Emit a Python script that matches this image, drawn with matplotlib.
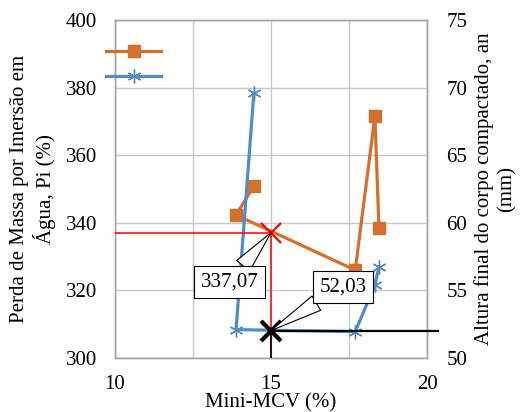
import numpy as np
import matplotlib.pyplot as plt

plt.rcParams['font.family'] = ['Liberation Serif', 'DejaVu Serif']
plt.rcParams['font.size'] = 15

# Mini-MCV (%)
mcv = [14.45, 13.88, 17.70, 18.33, 18.46]
# Perda de massa por imersao, Pi (%) - left axis
pi = [350.9, 342.3, 326.0, 371.6, 338.6]
# Altura final do corpo compactado, an (mm) - right axis
an = [69.6, 52.1, 51.95, 55.4, 56.75]

mcv_ref = 15.0
pi_ref = 337.07
an_ref = 52.03

orange = '#d5702c'
blue = '#508dc8'
grid_c = '#c8c8c8'

fig = plt.figure(figsize=(5.28, 4.12), dpi=100)
ax1 = fig.add_axes([115/528, 1-358/412, (427-115)/528, (358-20)/412])
ax2 = ax1.twinx()

p1, = ax1.plot(mcv, pi, color=orange, lw=2.3, marker='s', ms=8.5, zorder=3)
p2, = ax2.plot(mcv, an, color=blue, lw=2.3, marker=(6, 2, 0), ms=10,
               mew=1.0, mec=blue, zorder=3)

ax1.set_xlim(10, 20)
ax1.set_ylim(300, 400)
ax2.set_ylim(50, 75)
ax1.set_xticks([10, 15, 20])
ax1.set_xticks([12.5, 17.5], minor=True)
ax1.set_yticks(np.arange(300, 401, 20))
ax2.set_yticks(np.arange(50, 76, 5))

ax1.grid(True, which='both', axis='x', color=grid_c, lw=1)
ax1.grid(True, which='major', axis='y', color=grid_c, lw=1)
ax1.set_axisbelow(True)
for a in (ax1, ax2):
    a.tick_params(length=0, which='both')
    for s in a.spines.values():
        s.set_color('#a6a6a6')
        s.set_linewidth(1)
ax1.tick_params(axis='x', pad=12)
ax1.tick_params(axis='y', pad=13)
ax2.tick_params(axis='y', pad=14)

ax1.set_xlabel('Mini-MCV (%)', labelpad=0)
ax1.set_ylabel('Perda de Massa por Imersão em\nÁgua, Pi (%)', labelpad=7)
ax2.set_ylabel('Altura final do corpo compactado, an\n(mm)', rotation=90,
               labelpad=5)

# reference lines for Mini-MCV = 15
ax2.plot([10, mcv_ref], [pi_ref, pi_ref], color='red', lw=1.1,
         transform=ax1.transData, zorder=4)
ax2.plot([mcv_ref, mcv_ref], [300, pi_ref], color='red', lw=1.1,
         transform=ax1.transData, zorder=4)
ax2.plot([mcv_ref, mcv_ref], [50, an_ref], color='black', lw=1.1, zorder=4)
ax2.plot([mcv_ref, 20.35], [an_ref, an_ref], color='black', lw=1.6,
         zorder=4, clip_on=False)
ax2.plot([mcv_ref], [pi_ref], marker='x', color='red', ms=14, mew=1.6,
         transform=ax1.transData, zorder=5)
ax2.plot([mcv_ref], [an_ref], marker='x', color='black', ms=15, mew=3,
         zorder=5)

box = dict(boxstyle='square,pad=0.3', fc='white', ec='black', lw=0.8)
ax2.annotate('337,07', xy=(mcv_ref, pi_ref), xycoords=ax1.transData,
             xytext=(13.67, 322.5), textcoords=ax1.transData,
             ha='center', va='center', bbox=box, zorder=6,
             arrowprops=dict(arrowstyle='wedge,tail_width=0.8', fc='white',
                             ec='black', lw=0.8, shrinkA=0, shrinkB=0))
ax2.annotate('52,03', xy=(mcv_ref, an_ref),
             xytext=(17.31, 55.25), textcoords='data',
             ha='center', va='center', bbox=box, zorder=6,
             arrowprops=dict(arrowstyle='wedge,tail_width=0.8', fc='white',
                             ec='black', lw=0.8, shrinkA=0, shrinkB=0))

fig.legend([p1, p2], [' ', ' '], loc='upper left',
           bbox_to_anchor=(96/528, 1-33/412), frameon=False,
           handlelength=2.6, handletextpad=0, borderpad=0,
           labelspacing=0.25, numpoints=1)

fig.savefig('out.png', dpi=100)
